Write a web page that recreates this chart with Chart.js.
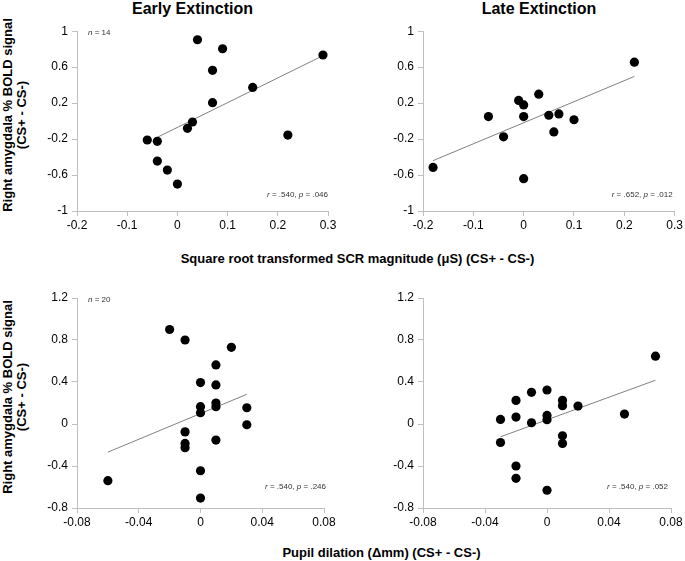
<!DOCTYPE html>
<html>
<head>
<meta charset="utf-8">
<script src="https://cdn.jsdelivr.net/npm/chart.js@4.4.1/dist/chart.umd.min.js"></script>
<style>
  html, body { margin: 0; padding: 0; background: #fff; }
  body { width: 685px; height: 561px; position: relative; overflow: hidden;
         font-family: "Liberation Sans", Arial, sans-serif; }
  canvas { position: absolute; }
  .t { position: absolute; font-weight: bold; color: #000; white-space: nowrap; text-align: center; }
  .title { font-size: 16px; line-height: 18px; width: 300px; }
  .xt { font-size: 13px; line-height: 16px; width: 500px; }
  .yt { font-size: 13px; line-height: 14px; width: 300px; height: 28px; transform: rotate(-90deg); }
</style>
</head>
<body>
<div class="t title" style="left:42.5px; top:0px;">Early Extinction</div>
<div class="t title" style="left:389px; top:0px;">Late Extinction</div>
<div class="t yt" style="left:-135px; top:101px;">Right amygdala % BOLD signal<br>(CS+ - CS-)</div>
<div class="t yt" style="left:-135px; top:383px;">Right amygdala % BOLD signal<br>(CS+ - CS-)</div>
<div class="t xt" style="left:107.5px; top:251px;">Square root transformed SCR magnitude (μS) (CS+ - CS-)</div>
<div class="t xt" style="left:131.5px; top:545px;">Pupil dilation (Δmm) (CS+ - CS-)</div>

<canvas id="c1" width="310" height="222" style="left:30px; top:20px;"></canvas>
<canvas id="c2" width="309" height="222" style="left:376px; top:20px;"></canvas>
<canvas id="c3" width="310" height="245" style="left:30px; top:285px;"></canvas>
<canvas id="c4" width="309" height="245" style="left:376px; top:285px;"></canvas>

<script>
// ---------- data ----------
const scrXTicks = [-0.2, -0.1, 0, 0.1, 0.2, 0.3];
const scrYTicks = [-1, -0.6, -0.2, 0.2, 0.6, 1];
const pupXTicks = [-0.08, -0.04, 0, 0.04, 0.08];
const pupYTicks = [-0.8, -0.4, 0, 0.4, 0.8, 1.2];

const earlyScrX = [-0.06, -0.04, -0.04, -0.02, 0, 0.02, 0.03, 0.04, 0.07, 0.07, 0.09, 0.15, 0.22, 0.29];
const earlyScrY = [-0.21, -0.225, -0.445, -0.545, -0.70, -0.08, -0.01, 0.905, 0.205, 0.565, 0.805, 0.375, -0.155, 0.735];
const earlyScrTrendX = [-0.04, 0.29];
const earlyScrTrendY = [-0.18, 0.728];

const lateScrX = [-0.18, -0.07, -0.04, -0.01, 0, 0, 0, 0.03, 0.05, 0.06, 0.07, 0.10, 0.22];
const lateScrY = [-0.515, 0.05, -0.175, 0.23, 0.18, 0.05, -0.64, 0.30, 0.065, -0.12, 0.08, 0.015, 0.655];
const lateScrTrendX = [-0.18, 0.22];
const lateScrTrendY = [-0.44, 0.497];

const earlyPupX = [-0.06, -0.02, -0.01, -0.01, -0.01, -0.01, 0, 0, 0, 0, 0, 0.01, 0.01, 0.01, 0.01, 0.01, 0.02, 0.03, 0.03];
const earlyPupY = [-0.54, 0.90, 0.80, -0.075, -0.185, -0.225, 0.395, 0.165, 0.108, -0.445, -0.705, 0.563, 0.372, 0.20, 0.165, -0.153, 0.73, 0.155, -0.007];
const earlyPupTrendX = [-0.06, 0.03];
const earlyPupTrendY = [-0.268, 0.283];

const latePupX = [-0.03, -0.03, -0.02, -0.02, -0.02, -0.02, -0.01, -0.01, 0, 0, 0, 0, 0.01, 0.01, 0.01, 0.01, 0.02, 0.05, 0.07];
const latePupY = [0.044, -0.176, 0.225, 0.066, -0.40, -0.517, 0.302, 0.012, 0.324, 0.082, 0.041, -0.631, 0.225, 0.175, -0.112, -0.185, 0.171, 0.095, 0.646];
const latePupTrendX = [-0.03, 0.07];
const latePupTrendY = [-0.122, 0.417];

const nLabels = ['14', null, '20', null];
const rValues = ['.540', '.652', '.540', '.540'];
const pValues = ['.046', '.012', '.246', '.052'];

// ---------- helpers ----------
const FONT = '"Liberation Sans", Arial, sans-serif';
const toPts = (xs, ys) => xs.map((x, i) => ({ x: x, y: ys[i] }));

const annotPlugin = {
  id: 'annot',
  afterDraw(chart, args, o) {
    const ctx = chart.ctx, a = chart.chartArea;
    ctx.save();
    ctx.fillStyle = '#333';
    ctx.textBaseline = 'middle';
    const it = 'italic 8px ' + FONT, nm = '8px ' + FONT;
    function drawSegs(segs, x, y, alignRight) {
      let w = 0;
      segs.forEach(s => { ctx.font = s[1]; w += ctx.measureText(s[0]).width; });
      let cx = alignRight ? x - w : x;
      ctx.textAlign = 'left';
      segs.forEach(s => { ctx.font = s[1]; ctx.fillText(s[0], cx, y); cx += ctx.measureText(s[0]).width; });
    }
    if (o.n) drawSegs([['n', it], [' = ' + o.n, nm]], a.left + 11, a.top + 1.5, false);
    drawSegs([['r', it], [' = ' + o.r + ', ', nm], ['p', it], [' = ' + o.p, nm]],
             a.right + o.rdx, a.bottom - o.rdy, true);
    ctx.restore();
  }
};

function makeChart(id, pts, tx, ty, xTicks, yTicks, pad, annot) {
  const axisColor = '#bfbfbf';
  const common = (ticks) => ({
    type: 'linear',
    min: ticks[0], max: ticks[ticks.length - 1],
    border: { display: true, color: axisColor, width: 1 },
    grid: { display: true, drawOnChartArea: false, drawTicks: true, tickLength: 5, color: axisColor, lineWidth: 1 },
    afterBuildTicks: (s) => { s.ticks = ticks.map(v => ({ value: v })); },
    ticks: { color: '#000', font: { family: FONT, size: 12 }, callback: (v) => String(v), autoSkip: false, maxRotation: 0 }
  });
  const xs = common(xTicks); xs.position = 'bottom';
  xs.ticks.padding = 2;
  xs.afterFit = (s) => { s.height = 20; };
  const ys = common(yTicks); ys.position = 'left';
  ys.ticks.padding = 4;
  ys.afterFit = (s) => { s.width = 40; };
  return new Chart(document.getElementById(id), {
    type: 'scatter',
    data: {
      datasets: [
        { type: 'line', data: toPts(tx, ty), borderColor: '#808080', borderWidth: 1, pointRadius: 0, fill: false, tension: 0, order: 2 },
        { data: pts, backgroundColor: '#000', borderColor: '#000', borderWidth: 0, pointRadius: 4.6, order: 1 }
      ]
    },
    options: {
      responsive: false, animation: false, devicePixelRatio: 1,
      layout: { padding: pad },
      scales: { x: xs, y: ys },
      plugins: { legend: { display: false }, tooltip: { enabled: false }, annot: annot }
    },
    plugins: [annotPlugin]
  });
}

makeChart('c1', toPts(earlyScrX, earlyScrY), earlyScrTrendX, earlyScrTrendY, scrXTicks, scrYTicks,
  { left: 7, top: 11, right: 12, bottom: 11 }, { n: nLabels[0], r: rValues[0], p: pValues[0], rdx: 0, rdy: 16 });
makeChart('c2', toPts(lateScrX, lateScrY), lateScrTrendX, lateScrTrendY, scrXTicks, scrYTicks,
  { left: 7, top: 11, right: 10, bottom: 11 }, { n: nLabels[1], r: rValues[1], p: pValues[1], rdx: -2, rdy: 16 });
makeChart('c3', toPts(earlyPupX, earlyPupY), earlyPupTrendX, earlyPupTrendY, pupXTicks, pupYTicks,
  { left: 7, top: 13, right: 16, bottom: 2 }, { n: nLabels[2], r: rValues[2], p: pValues[2], rdx: 2, rdy: 21 });
makeChart('c4', toPts(latePupX, latePupY), latePupTrendX, latePupTrendY, pupXTicks, pupYTicks,
  { left: 7, top: 13, right: 14, bottom: 2 }, { n: nLabels[3], r: rValues[3], p: pValues[3], rdx: -3, rdy: 21 });
</script>
</body>
</html>
